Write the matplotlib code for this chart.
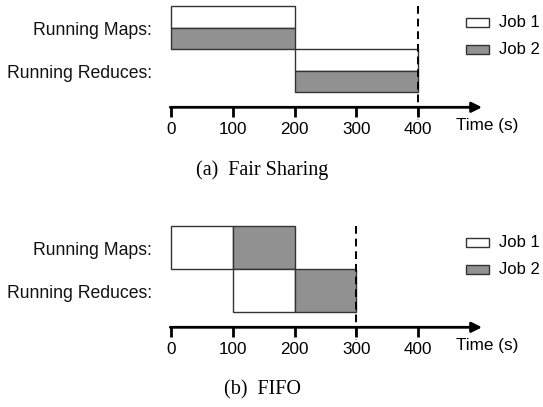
import matplotlib
matplotlib.use('Agg')
import matplotlib.pyplot as plt
from matplotlib.patches import Rectangle

JOBS = ['Job 1', 'Job 2']
JOB_COLORS = ['white', '#919191']
TICKS = [0, 100, 200, 300, 400]
ROW_NAMES = ['Running Maps:', 'Running Reduces:']

# fair sharing: both jobs run side by side, each gets half the slots
FAIR_MAP_START = [0, 0]
FAIR_MAP_END = [200, 200]
FAIR_RED_START = [200, 200]
FAIR_RED_END = [400, 400]
FAIR_DONE = 400

# fifo: job 2 waits for job 1
FIFO_MAP_START = [0, 100]
FIFO_MAP_END = [100, 200]
FIFO_RED_START = [100, 200]
FIFO_RED_END = [200, 300]
FIFO_DONE = 300

X0 = 171.0      # pixel of t=0
PPS = 0.6175    # pixels per second
ROW_H = 43.0
W, H = 543, 407


def px(x):
	'''pixel column -> seconds, for placing the layout bits'''
	return (x - X0) / PPS


def draw_panel(ax, top, map_start, map_end, red_start, red_end, done, shared, caption):
	rows = [(map_start, map_end), (red_start, red_end)]
	for r, (starts, ends) in enumerate(rows):
		row_top = top + r * ROW_H
		for j in range(len(JOBS)):
			if shared:
				h = ROW_H / 2
				y = row_top + j * h
			else:
				h = ROW_H
				y = row_top
			ax.barh(y + h / 2, ends[j] - starts[j], left=starts[j], height=h,
					color=JOB_COLORS[j], edgecolor='#333333', linewidth=1.0, zorder=2)
		ax.text(px(152), row_top + ROW_H / 2 + 3, ROW_NAMES[r], ha='right', va='center',
				fontsize=12.7, color='#111111')

	axis_y = top + 101.3
	ax.annotate('', xy=(px(482), axis_y), xytext=(TICKS[0] - 1.2, axis_y),
				arrowprops=dict(arrowstyle='-|>', lw=2.0, color='black',
								mutation_scale=15, shrinkA=0, shrinkB=0))
	for t in TICKS:
		ax.plot([t, t], [axis_y, axis_y + 10], color='black', lw=2.0,
				solid_capstyle='butt', zorder=3)
		ax.text(t, axis_y + 22, str(t), ha='center', va='center', fontsize=12.3)
	ax.text(px(487), axis_y + 18, 'Time (s)', ha='center', va='center', fontsize=12.3)

	ax.plot([done, done], [top, axis_y + 13], color='black', lw=1.4,
			dashes=(4, 2.5), zorder=4)

	# legend
	for j in range(len(JOBS)):
		cy = top + 16.5 + j * 27
		ax.add_patch(Rectangle((px(466), cy - 4.5), 23 / PPS, 9,
							   facecolor=JOB_COLORS[j], edgecolor='#333333', lw=1.0))
		ax.text(px(499), cy, JOBS[j], ha='left', va='center', fontsize=12)

	ax.text(px(262), top + 164, caption, ha='center', va='center',
			fontsize=14.5, family='Liberation Serif')


if __name__ == '__main__':
	plt.rcParams['font.family'] = ['Liberation Sans', 'DejaVu Sans']
	fig = plt.figure(figsize=(W / 100, H / 100), dpi=100)
	fig.patch.set_facecolor('white')
	ax = fig.add_axes([0, 0, 1, 1])
	ax.set_xlim(px(0), px(W))
	ax.set_ylim(H, 0)
	ax.axis('off')

	draw_panel(ax, 6, FAIR_MAP_START, FAIR_MAP_END, FAIR_RED_START, FAIR_RED_END,
			   FAIR_DONE, True, '(a)  Fair Sharing')
	draw_panel(ax, 226, FIFO_MAP_START, FIFO_MAP_END, FIFO_RED_START, FIFO_RED_END,
			   FIFO_DONE, False, '(b)  FIFO')

	fig.savefig('out.png', dpi=100)
